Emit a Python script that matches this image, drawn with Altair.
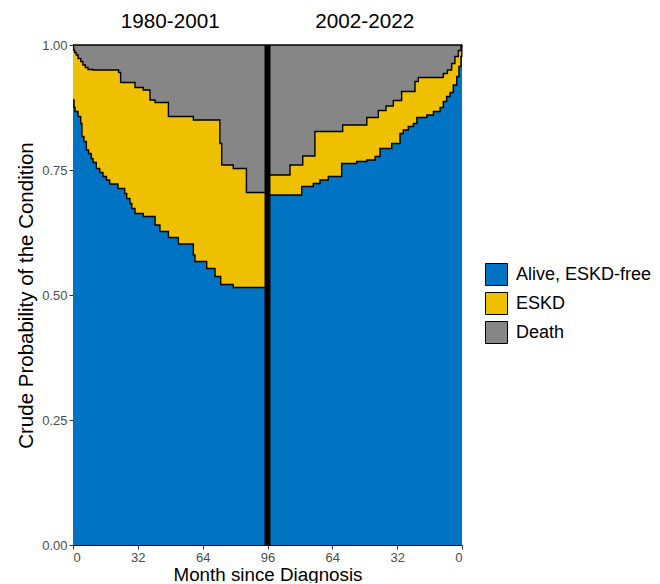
import altair as alt
import pandas as pd

FONT = "Liberation Sans, Arial, Helvetica, sans-serif"

states = ["Alive, ESKD-free", "ESKD", "Death"]
colors = ["#0073C2", "#EFC000", "#868686"]
panel_titles = ["1980-2001", "2002-2022"]
tick_values = [0, 32, 64, 96, 128, 160, 192]
y_ticks = [0, 0.25, 0.5, 0.75, 1.0]

# 1980-2001: step functions (month at which value starts, value)
left_alive_t = [0, 0.5, 1.0, 2.5, 3.8, 4.4, 5.4, 6.6, 7.7, 9.0, 9.9, 11.5, 13.2, 14.8, 16.5, 18.1,
                22.2, 25.5, 26.5, 28.1, 29.0, 30.6, 34.7, 40.5, 42.9, 47.1, 52.0, 59.4, 60.2,
                66.0, 70.1, 72.9, 79.1]
left_alive_v = [0.89, 0.875, 0.867, 0.857, 0.843, 0.817, 0.807, 0.79, 0.783, 0.773, 0.765, 0.753,
                0.745, 0.737, 0.73, 0.722, 0.713, 0.703, 0.693, 0.683, 0.673, 0.663, 0.657, 0.64,
                0.627, 0.615, 0.602, 0.58, 0.567, 0.553, 0.537, 0.521, 0.515]
left_cum_t = [0, 0.3, 0.8, 1.6, 2.5, 3.8, 4.9, 6.1, 7.4, 9.9, 22.5, 23.5, 30.6, 34.7, 38.0, 40.5,
              47.1, 59.4, 72.5, 73.4, 79.1, 85.6]
left_cum_v = [1.0, 0.99, 0.985, 0.98, 0.973, 0.967, 0.96, 0.955, 0.951, 0.95, 0.945, 0.925, 0.915,
              0.91, 0.89, 0.885, 0.857, 0.85, 0.803, 0.76, 0.753, 0.705]

# 2002-2022
right_alive_t = [0, 0.1, 0.5, 1.5, 2.6, 4.3, 5.9, 7.6, 9.2, 10.8, 14.1, 17.4, 22.3, 24.0, 26.5,
                 29.0, 30.6, 34.7, 40.5, 42.9, 47.0, 52.0, 59.4, 66.0, 70.1, 73.4, 79.1]
right_alive_v = [1.0, 0.977, 0.957, 0.937, 0.92, 0.905, 0.897, 0.887, 0.875, 0.867, 0.86, 0.855,
                 0.843, 0.837, 0.83, 0.823, 0.803, 0.793, 0.777, 0.77, 0.767, 0.763, 0.737, 0.73,
                 0.723, 0.717, 0.70]
right_cum_t = [0, 0.1, 0.5, 1.8, 3.5, 5.1, 7.2, 9.2, 21.6, 23.2, 29.8, 33.9, 37.5, 41.3, 47.0,
               58.9, 72.6, 78.6, 84.9]
right_cum_v = [1.0, 0.997, 0.989, 0.977, 0.963, 0.95, 0.943, 0.935, 0.927, 0.907, 0.889, 0.878,
               0.869, 0.855, 0.84, 0.827, 0.778, 0.76, 0.74]

MAX_MONTH = 96


def step_value(ts, vs, t):
    v = vs[0]
    for ti, vi in zip(ts, vs):
        if ti <= t:
            v = vi
        else:
            break
    return v


rows = []
for panel, at, av, ct, cv in [("left", left_alive_t, left_alive_v, left_cum_t, left_cum_v),
                              ("right", right_alive_t, right_alive_v, right_cum_t, right_cum_v)]:
    times = sorted(set(at + ct + [MAX_MONTH]))
    for t in times:
        a = step_value(at, av, t)
        c = step_value(ct, cv, t)
        u = t if panel == "left" else 2 * MAX_MONTH - t
        for s, lo, hi in [(states[0], 0.0, a), (states[1], a, c), (states[2], c, 1.0)]:
            rows.append({"panel": panel, "t": t, "u": u, "state": s, "lo": lo, "hi": hi})
df = pd.DataFrame(rows)

xenc = alt.X(
    "u:Q",
    scale=alt.Scale(domain=[0, 2 * MAX_MONTH], nice=False, zero=False),
    axis=alt.Axis(
        values=tick_values,
        labelExpr="format(datum.value <= 96 ? datum.value : 192 - datum.value, 'd')",
        title="Month since Diagnosis",
        titleFontSize=18.8,
        titlePadding=1,
    ),
)
yenc = alt.Y(
    "hi:Q",
    scale=alt.Scale(domain=[0, 1], nice=False),
    axis=alt.Axis(
        values=y_ticks,
        format=".2f",
        title="Crude Probability of the Condition",
        titleFontSize=20.5,
        titlePadding=5,
    ),
)
color = alt.Color(
    "state:N",
    scale=alt.Scale(domain=states, range=colors),
    legend=alt.Legend(
        title=None,
        orient="none",
        legendX=412,
        legendY=218,
        symbolType="square",
        symbolSize=484,
        symbolStrokeColor="black",
        symbolStrokeWidth=1,
        symbolOpacity=1,
        labelFontSize=18,
        labelOffset=8,
        labelColor="black",
        labelFont=FONT,
        rowPadding=2,
        padding=0,
    ),
)

base = alt.Chart(df)
layers = []
for panel, interp in [("left", "step-after"), ("right", "step-before")]:
    sub = base.transform_filter(f"datum.panel == '{panel}'")
    layers.append(
        sub.mark_area(interpolate=interp, opacity=1).encode(x=xenc, y=yenc, y2="lo:Q", color=color)
    )
for panel, interp in [("left", "step-after"), ("right", "step-before")]:
    sub = base.transform_filter(f"datum.panel == '{panel}'")
    layers.append(
        sub.mark_line(interpolate=interp, color="black", strokeWidth=1.4).encode(
            x=xenc, y=yenc, detail="state:N"
        )
    )

divider = alt.Chart(pd.DataFrame({"u": [MAX_MONTH]})).mark_rule(color="black", strokeWidth=6).encode(
    x=xenc, y=alt.datum(0), y2=alt.datum(1)
)
titles = alt.Chart(pd.DataFrame({"u": [MAX_MONTH / 2, MAX_MONTH * 1.5], "label": panel_titles})).mark_text(
    fontSize=20.7, baseline="alphabetic", color="black", font=FONT
).encode(x=xenc, y=alt.value(-17), text="label:N")

chart = (
    alt.layer(*layers, divider, titles)
    .properties(
        width=389,
        height=500,
        autosize=alt.AutoSizeParams(type="none"),
        padding={"left": 65, "top": 37, "right": 190, "bottom": 38},
    )
    .configure_view(stroke=None)
    .configure_axis(
        grid=False,
        domainColor="black",
        domainWidth=1,
        tickColor="#333333",
        tickSize=4,
        labelColor="#4D4D4D",
        labelFontSize=13,
        labelFont=FONT,
        titleFont=FONT,
        titleColor="black",
        titleFontWeight="normal",
        labelPadding=2,
    )
)

chart.save("out.html", embed_options={"renderer": "svg", "actions": False})
